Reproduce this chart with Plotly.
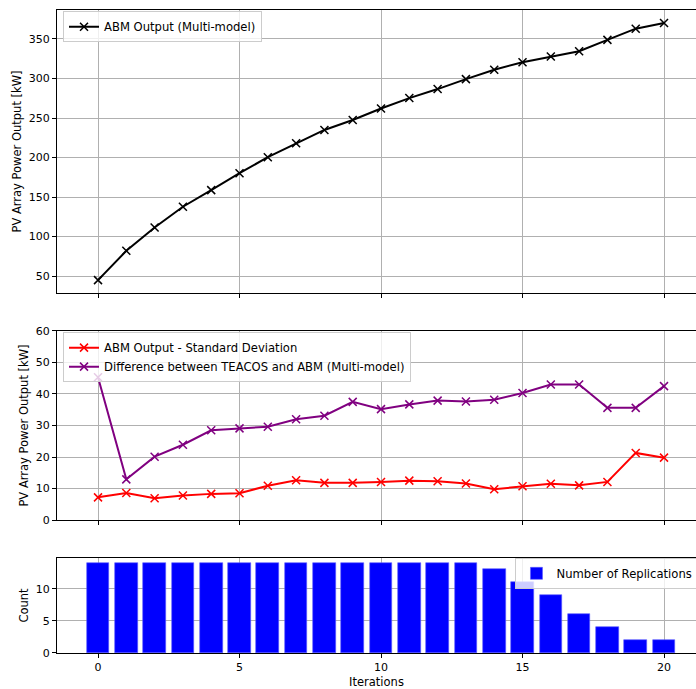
import plotly.graph_objects as go

iterations = list(range(21))

abm_output = [45.0, 82.0, 111.5, 137.8, 158.8, 180.2, 200.4, 218.0, 234.9, 247.5, 262.0,
              275.2, 286.6, 299.2, 311.0, 320.6, 327.8, 334.5, 348.8, 363.0, 370.2]

abm_std = [7.2, 8.6, 6.9, 7.8, 8.3, 8.5, 10.9, 12.6, 11.8, 11.8, 12.1,
           12.5, 12.3, 11.6, 9.8, 10.7, 11.5, 11.0, 12.1, 21.3, 19.8]

teacos_diff = [45.3, 12.9, 20.1, 23.9, 28.5, 29.1, 29.6, 32.0, 33.1, 37.5, 35.2,
               36.7, 37.9, 37.6, 38.2, 40.3, 43.0, 43.0, 35.6, 35.6, 42.5]

replications = [14, 14, 14, 14, 14, 14, 14, 14, 14, 14, 14,
                14, 14, 14, 13, 11, 9, 6, 4, 2, 2]

x_ticks = [0, 5, 10, 15, 20]

FONT = "DejaVu Sans"
GRID = "#b0b0b0"
XRANGE = [-1.449, 21.13]

fig = go.Figure()


def line_trace(y, color, name, xa, ya, legend):
    return go.Scatter(
        x=iterations, y=y, mode="lines+markers", name=name,
        xaxis=xa, yaxis=ya, legend=legend, showlegend=True,
        line=dict(color=color, width=2),
        marker=dict(symbol="x-thin-open", size=8, color=color,
                    line=dict(color=color, width=1.5)),
    )


fig.add_trace(line_trace(abm_output, "black", "ABM Output (Multi-model)", "x", "y", "legend"))
fig.add_trace(line_trace(abm_std, "red", "ABM Output - Standard Deviation", "x2", "y2", "legend2"))
fig.add_trace(line_trace(teacos_diff, "purple", "Difference between TEACOS and ABM (Multi-model)",
                         "x2", "y2", "legend2"))
fig.add_trace(go.Bar(
    x=iterations, y=replications, name="Number of Replications",
    xaxis="x3", yaxis="y3", legend="legend3", showlegend=True, width=0.8,
    marker=dict(color="blue", line=dict(color="rgba(90,90,255,1)", width=0.6)),
))

common_x = dict(
    range=XRANGE, tickvals=x_ticks, ticks="outside", ticklen=4, tickcolor="black",
    showgrid=True, gridcolor=GRID, gridwidth=0.8, zeroline=False,
    showline=True, linecolor="black", linewidth=1, mirror=True,
)
common_y = dict(
    ticks="outside", ticklen=4, tickcolor="black",
    showgrid=True, gridcolor=GRID, gridwidth=0.8, zeroline=False,
    showline=True, linecolor="black", linewidth=1,
)

legend_style = dict(
    bgcolor="rgba(255,255,255,0.8)", bordercolor="#cccccc", borderwidth=1,
    font=dict(family=FONT, size=11.6, color="black"), xanchor="left", yanchor="top",
    tracegroupgap=0,
)

fig.update_layout(
    width=696, height=689,
    margin=dict(l=57, r=0, t=10, b=36, autoexpand=False),
    plot_bgcolor="white", paper_bgcolor="white",
    font=dict(family=FONT, size=11, color="black"),
    bargap=0,
    xaxis=dict(common_x, domain=[0, 1], anchor="y", showticklabels=False),
    yaxis=dict(common_y, domain=[0.5599, 1.0], anchor="x", range=[28.7, 386.6],
               tickvals=[50, 100, 150, 200, 250, 300, 350],
               title=dict(text="PV Array Power Output [kW]", standoff=4,
                          font=dict(size=11.5))),
    xaxis2=dict(common_x, domain=[0, 1], anchor="y2", showticklabels=False),
    yaxis2=dict(common_y, domain=[0.2068, 0.5008], anchor="x2", range=[0, 60],
                tickvals=[0, 10, 20, 30, 40, 50, 60],
                title=dict(text="PV Array Power Output [kW]", standoff=4,
                           font=dict(size=11.5))),
    xaxis3=dict(common_x, domain=[0, 1], anchor="y3",
                title=dict(text="Iterations", standoff=4, font=dict(size=11.5))),
    yaxis3=dict(common_y, domain=[0, 0.1477], anchor="x3", range=[0, 14.77],
                tickvals=[0, 5, 10],
                title=dict(text="Count", standoff=4, font=dict(size=11.5))),
    legend=dict(legend_style, x=0.0094, y=0.998),
    legend2=dict(legend_style, x=0.0094, y=0.499),
    legend3=dict(legend_style, x=0.7175, y=0.148),
)

fig.write_html("out.html")
